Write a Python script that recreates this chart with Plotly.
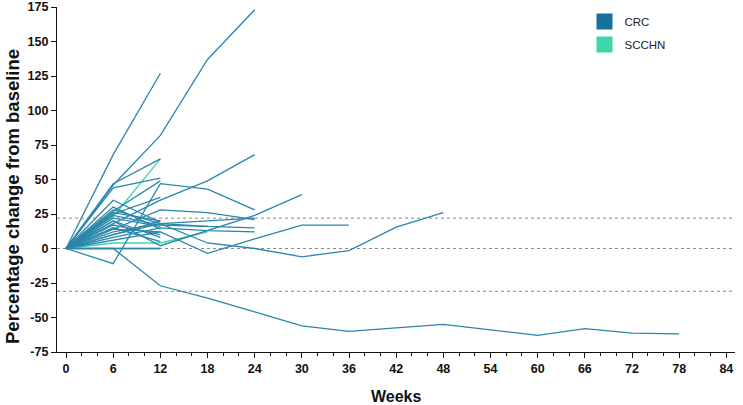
import plotly.graph_objects as go

# ---- data ----
crc_weeks = [
    [0, 6, 12, 18, 24],
    [0, 6, 12],
    [0, 6, 12],
    [0, 6, 12],
    [0, 6, 12],
    [0, 6, 12, 18, 24],
    [0, 6, 12],
    [0, 6, 12, 18, 24],
    [0, 6, 12, 18, 24],
    [0, 6, 12, 18, 24],
    [0, 6, 12, 18, 24],
    [0, 6, 12, 18, 24, 30],
    [0, 6, 12, 18, 24, 30, 36, 42, 48],
    [0, 6, 12, 18, 24, 30, 36],
    [0, 6, 12, 18, 24, 30, 36, 42, 48, 54, 60, 66, 72, 78],
    [0, 6, 12],
    [0, 6, 12],
    [0, 6, 12],
    [0, 6, 12],
    [0, 6, 12],
    [0, 6, 12, 18],
    [0, 6, 12],
    [0, 6, 12],
    [0, 6, 12, 18, 24],
    [0, 6, 12],
    [0, 6, 12],
    [0, 6, 12],
]
crc_values = [
    [0, 46, 82, 137, 173],
    [0, 68, 127],
    [0, 47, 65],
    [0, 44, 51],
    [0, 27, 49],
    [0, -11, 47, 43, 28],
    [0, 25, 37],
    [0, 18, 35, 49, 68],
    [0, 14, 28, 26, 21],
    [0, 10, 18, 16, 15],
    [0, 8, 15, 13, 12],
    [0, 20, 2, 13, 24, 39],
    [0, 12, 18, 4, 0, -6, -1.5, 15.5, 26],
    [0, 14, 12, -3.5, 7, 17, 17],
    [0, 0, -27, -36, -46, -56, -60, -57.5, -55, -59, -63, -58, -61.3, -61.8],
    [0, 0, 0],
    [0, 30, 14],
    [0, 20, 8],
    [0, 15, 5],
    [0, 10, 20],
    [0, 24, 17, 16],
    [0, 6, 12],
    [0, 35, 19],
    [0, 28, 18, 20, 22],
    [0, 22, 16],
    [0, 17, 10],
    [0, 26, 20],
]
scchn_weeks = [
    [0, 6, 12],
    [0, 6, 12],
    [0, 6, 12, 18],
]
scchn_values = [
    [0, 23, 65],
    [0, 0, 0],
    [0, 4, 4, 12],
]
ref_lines = [22, 0, -31]
x_ticks = list(range(0, 85, 6))
y_ticks = list(range(-75, 176, 25))
groups = ["CRC", "SCCHN"]

CRC_LINE = "#2b86aa"
SCC_LINE = "#3fd3a6"
CRC_KEY = "#17709a"
SCC_KEY = "#3ad8ad"

fig = go.Figure()

for w, v in zip(scchn_weeks, scchn_values):
    fig.add_trace(go.Scatter(x=w, y=v, mode="lines", showlegend=False,
                             line=dict(color=SCC_LINE, width=1.3), hoverinfo="skip"))
for w, v in zip(crc_weeks, crc_values):
    fig.add_trace(go.Scatter(x=w, y=v, mode="lines", showlegend=False,
                             line=dict(color=CRC_LINE, width=1.3), hoverinfo="skip"))

# legend keys
for name, col in zip(groups, [CRC_KEY, SCC_KEY]):
    fig.add_trace(go.Scatter(x=[None], y=[None], mode="markers", name=name,
                             legendgroup=name,
                             marker=dict(symbol="square", size=16, color=col)))

for r in ref_lines:
    fig.add_shape(type="line", xref="paper", x0=0, x1=1, yref="y", y0=r, y1=r,
                  line=dict(color="#8a8a8a", width=1, dash="dot"), layer="below")

fig.add_annotation(text="<b>Percentage change from baseline</b>", textangle=-90,
                   xref="paper", yref="paper", x=-0.066, y=0.45,
                   xanchor="center", yanchor="middle", showarrow=False,
                   font=dict(family="Liberation Sans", size=18.5, color="#111111"))
fig.add_annotation(text="<b>Weeks</b>",
                   xref="paper", yref="paper", x=0.5, y=-0.13,
                   xanchor="center", yanchor="middle", showarrow=False,
                   font=dict(family="Liberation Sans", size=16, color="#111111"))

tick_font = dict(family="Liberation Sans", size=12.5, color="#111111")
fig.update_layout(
    width=743, height=405,
    margin=dict(l=57, r=8, t=7, b=53),
    paper_bgcolor="white", plot_bgcolor="white",
    font=dict(family="Liberation Sans", color="#111111"),
    showlegend=True,
    legend=dict(x=0.778, y=1.0, xanchor="left", yanchor="top",
                font=dict(family="Liberation Sans", size=11.5, color="#222222"),
                tracegroupgap=4, bgcolor="rgba(0,0,0,0)"),
    xaxis=dict(range=[-1.15, 85.1], tickvals=x_ticks, ticktext=[f"<b>{t}</b>" for t in x_ticks],
               showgrid=False, zeroline=False, showline=True, linecolor="#111111", linewidth=1.3,
               ticks="outside", ticklen=5, tickwidth=1.3, tickcolor="#111111",
               minor=dict(dtick=2, tick0=0, ticks="outside", ticklen=3, tickwidth=1, tickcolor="#111111"),
               tickfont=tick_font, automargin=False),
    yaxis=dict(range=[-75, 175], tickvals=y_ticks, ticktext=[f"<b>{t}</b>" for t in y_ticks],
               showgrid=False, zeroline=False, showline=True, linecolor="#111111", linewidth=1.3,
               ticks="outside", ticklen=5, tickwidth=1.3, tickcolor="#111111",
               tickfont=tick_font, automargin=False),
)

fig.write_html("out.html", config={"displayModeBar": False},
               post_script="document.body.style.margin='0';document.body.style.overflow='hidden';")
